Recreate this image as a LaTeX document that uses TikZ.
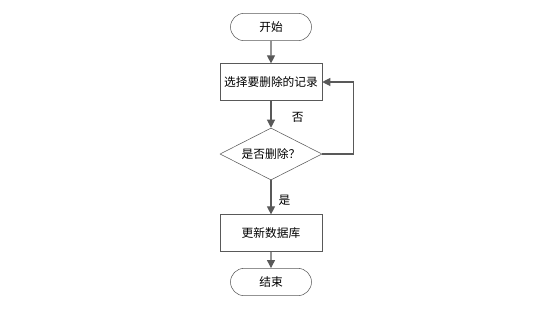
\documentclass[tikz,border=0pt]{standalone}
\usepackage{fontspec}
\setmainfont{Noto Sans CJK SC}
\usepackage{tikz}
\usetikzlibrary{shapes.geometric, shapes.misc, arrows.meta, positioning}

\definecolor{linie}{HTML}{595959}

\tikzset{
	terminal/.style={draw=linie, rounded rectangle, minimum width=60.75pt, minimum height=20.5pt, inner sep=0pt},
	vorgang/.style={draw=linie, rectangle, minimum width=76.5pt, minimum height=27.5pt, inner sep=0pt},
	frage/.style={draw=linie, diamond, aspect=2, minimum width=76.5pt, minimum height=39pt, inner sep=0pt},
	pfeil/.style={draw=linie, line width=0.8pt, -{Triangle[length=6pt, width=6pt]}}
}

\begin{document}
\begin{tikzpicture}[x=0.75pt, y=-0.75pt, font=\fontsize{8.8}{10}\selectfont]
			\useasboundingbox (0,0) rectangle (539,308);
			
			% Knoten
			\node[terminal] (start) at (271,27) {开始};
			\node[vorgang] (auswahl) at (271,82) {选择要删除的记录};
			\node[frage] (frage) at (271,154) {是否删除？};
			\node[vorgang] (update) at (271,233) {更新数据库};
			\node[terminal] (ende) at (271,282) {结束};
			
			% Verbindungen
			\draw[pfeil] (start) -- (auswahl);
			\draw[pfeil] (auswahl) -- (frage) node[pos=0.6, right=12pt] {否};
			\draw[pfeil] (frage) -- (update) node[pos=0.6, right=2pt] {是};
			\draw[pfeil] (update) -- (ende);
			\draw[pfeil] (frage.east) -- ++(31,0) |- (auswahl.east);
		\end{tikzpicture}
\end{document}
